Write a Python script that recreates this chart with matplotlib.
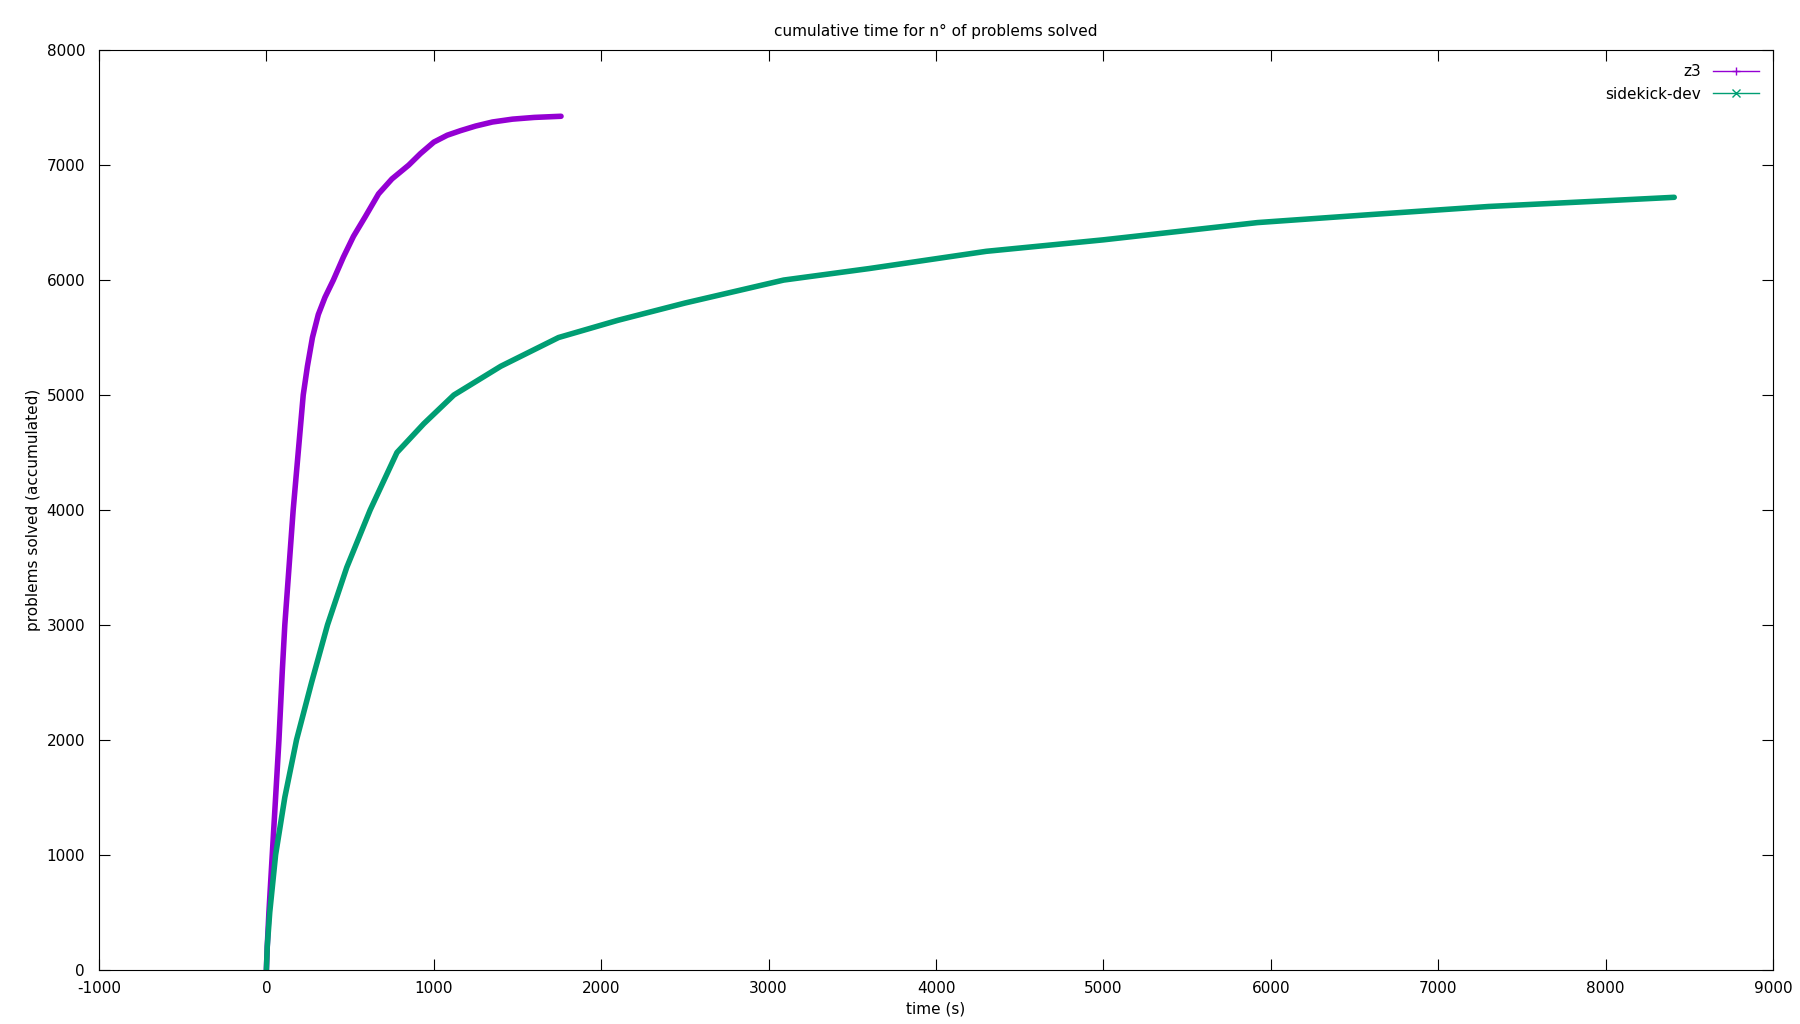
import matplotlib
matplotlib.use("Agg")
import matplotlib.pyplot as plt
plt.rcParams['axes.unicode_minus'] = False

z3_t = [0, 5, 15, 35, 55, 75, 95, 110, 135, 160, 190, 220, 245, 275, 310, 350, 400, 460, 520, 590, 670, 750, 850, 920, 1000, 1080, 1160, 1250, 1350, 1470, 1600, 1760]
z3_n = [0, 200, 500, 1000, 1500, 2000, 2600, 3000, 3500, 4000, 4500, 5000, 5250, 5500, 5700, 5850, 6000, 6200, 6380, 6550, 6750, 6880, 7000, 7100, 7200, 7260, 7300, 7340, 7375, 7400, 7415, 7425]
sk_t = [0, 5, 20, 55, 110, 180, 270, 365, 480, 620, 780, 940, 1120, 1400, 1745, 2100, 2500, 3090, 3600, 4300, 5000, 5920, 6600, 7300, 8000, 8410]
sk_n = [0, 200, 500, 1000, 1500, 2000, 2500, 3000, 3500, 4000, 4500, 4750, 5000, 5250, 5500, 5650, 5800, 6000, 6100, 6250, 6350, 6500, 6570, 6640, 6690, 6720]

fig = plt.figure(figsize=(18, 10.24), dpi=100)
ax = fig.add_axes([0.055, 0.053, 0.93, 0.898])
ax.plot(z3_t, z3_n, color='#9400d3', lw=4, solid_capstyle='round')
ax.plot(sk_t, sk_n, color='#009e73', lw=4, solid_capstyle='round')
ax.plot([], [], color='#9400d3', lw=1, marker='+', label='z3')
ax.plot([], [], color='#009e73', lw=1, marker='x', label='sidekick-dev')
ax.set_xlim(-1000, 9000)
ax.set_ylim(0, 8000)
ax.set_xticks(range(-1000, 9001, 1000))
ax.set_yticks(range(0, 8001, 1000))
ax.tick_params(direction='in', top=True, right=True, labelsize=11, length=8)
ax.tick_params(axis='y', pad=10)
ax.tick_params(axis='x', pad=8)
ax.set_xlabel('time (s)', fontsize=11)
ax.set_ylabel('problems solved (accumulated)', fontsize=11)
ax.set_title('cumulative time for n° of problems solved', fontsize=11, pad=10)
ax.legend(loc='upper right', frameon=False, markerfirst=False, fontsize=11, handlelength=3)
fig.savefig('out.png')
